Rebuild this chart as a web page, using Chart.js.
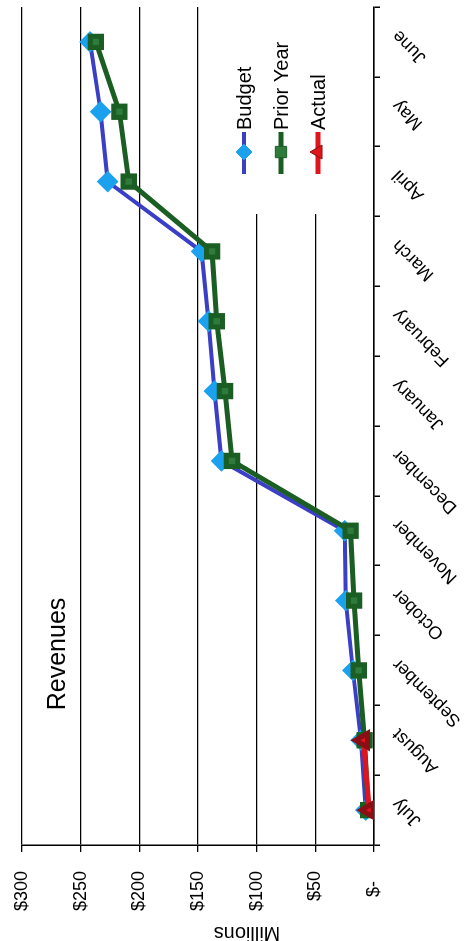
<!DOCTYPE html>
<html>
<head>
<meta charset="utf-8">
<script src="https://cdn.jsdelivr.net/npm/chart.js@4.4.1/dist/chart.umd.min.js"></script>
<style>
  html, body { margin: 0; padding: 0; background: #fff; overflow: hidden; }
  /* the chart is laid out landscape and turned a quarter turn counter-clockwise */
  #wrap {
    position: absolute; left: 0; top: 0;
    width: 941px; height: 472px;
    transform-origin: 0 0;
    transform: translateY(941px) rotate(-90deg);
    background: #fff;
  }
</style>
</head>
<body>
<div id="wrap"><canvas id="c" width="941" height="472"></canvas></div>
<script>
// Fiscal-year months
const months = ['July', 'August', 'September', 'October', 'November', 'December',
                'January', 'February', 'March', 'April', 'May', 'June'];
// Cumulative revenues, $ millions
const budget    = [7, 11, 18, 24, 25, 130, 136, 141, 147, 227, 233, 242];
const priorYear = [5, 8, 13, 17, 20, 121, 127, 134, 138, 209, 217, 237];
const actual    = [4, 9];
// Value axis ticks
const valueTicks = [0, 50, 100, 150, 200, 250, 300];

const FONT = "'Liberation Sans', Arial, sans-serif";
Chart.defaults.font.family = FONT;
Chart.defaults.color = '#000';

function drawMarker(ctx, style, x, y, r, fill, stroke) {
  ctx.save();
  ctx.fillStyle = fill;
  ctx.strokeStyle = stroke;
  ctx.lineWidth = 1;
  ctx.beginPath();
  if (style === 'rectRot') {
    ctx.moveTo(x - r, y); ctx.lineTo(x, y - r); ctx.lineTo(x + r, y); ctx.lineTo(x, y + r);
  } else if (style === 'rect') {
    const s = r * Math.SQRT1_2;
    ctx.rect(x - s, y - s, 2 * s, 2 * s);
  } else {
    ctx.moveTo(x, y - r); ctx.lineTo(x + r * 0.87, y + r * 0.5); ctx.lineTo(x - r * 0.87, y + r * 0.5);
  }
  ctx.closePath();
  ctx.fill();
  ctx.stroke();
  ctx.restore();
}

// Legend panel, chart title and axis title drawn over the plot
const overlay = {
  id: 'overlay',
  beforeDatasetsDraw(chart) {
    const { ctx, chartArea: a } = chart;
    ctx.save();
    ctx.fillStyle = '#fff';
    ctx.fillRect(a.right - 207, a.bottom - 160, 210, 159);
    ctx.restore();
  },
  afterDraw(chart) {
    const { ctx, chartArea: a } = chart;
    ctx.save();
    // legend
    const lx0 = a.right - 167, lx1 = a.right - 125, mx = a.right - 145;
    const rows = [a.bottom - 130, a.bottom - 93, a.bottom - 56];
    chart.data.datasets.forEach((ds, i) => {
      const y = rows[i];
      ctx.strokeStyle = ds.borderColor;
      ctx.lineWidth = ds.borderWidth;
      ctx.beginPath(); ctx.moveTo(lx0, y); ctx.lineTo(lx1, y); ctx.stroke();
      drawMarker(ctx, ds.pointStyle, mx, y, ds.pointRadius, ds.pointBackgroundColor, ds.pointBorderColor);
      ctx.fillStyle = '#000';
      ctx.font = '20px ' + FONT;
      ctx.textAlign = 'left';
      ctx.textBaseline = 'alphabetic';
      ctx.fillText(ds.label, lx1 + 2, y + 7);
    });
    // chart title inside the plot
    ctx.font = '25px ' + FONT;
    ctx.textAlign = 'center';
    ctx.fillStyle = '#000';
    ctx.fillText('Revenues', a.left + 191, a.top + 43);
    // value axis title
    ctx.translate(14, 247);
    ctx.rotate(-Math.PI / 2);
    ctx.font = '20px ' + FONT;
    ctx.fillText('Millions', 0, 0);
    ctx.restore();
  }
};

new Chart(document.getElementById('c'), {
  type: 'line',
  data: {
    labels: months,
    datasets: [
      { label: 'Budget', data: budget, borderColor: '#3a3fc6', borderWidth: 4,
        pointStyle: 'rectRot', pointRadius: 8, pointBackgroundColor: '#1ba1ee', pointBorderColor: '#1ba1ee',
        tension: 0, order: 3 },
      { label: 'Prior Year', data: priorYear, borderColor: '#1b5e24', borderWidth: 5,
        pointStyle: 'rect', pointRadius: 8, pointBackgroundColor: '#2e7b3c', pointBorderColor: '#1b5e24',
        tension: 0, order: 2 },
      { label: 'Actual', data: actual, borderColor: '#e0141c', borderWidth: 5,
        pointStyle: 'triangle', pointRadius: 8, pointBackgroundColor: '#e0141c', pointBorderColor: '#8a0f14',
        tension: 0, order: 1 }
    ]
  },
  options: {
    responsive: false,
    animation: false,
    devicePixelRatio: 1,
    layout: { autoPadding: false, padding: { left: 0, right: 7, top: 22, bottom: 0 } },
    plugins: { legend: { display: false }, title: { display: false }, tooltip: { enabled: false } },
    scales: {
      x: {
        type: 'category',
        offset: true,
        grid: { offset: true, drawOnChartArea: false, drawTicks: true, tickLength: 6, color: '#000', lineWidth: 1.5 },
        border: { display: true, color: '#000', width: 1.5 },
        ticks: { minRotation: 45, maxRotation: 45, autoSkip: false, color: '#000',
                 font: { family: FONT, size: 18 }, padding: 8, labelOffset: 9 },
        afterFit(s) { s.height = 98; s.paddingLeft = 0; s.paddingRight = 0; }
      },
      y: {
        min: 0, max: 300,
        afterBuildTicks(s) { s.ticks = valueTicks.map(v => ({ value: v })); },
        grid: { color: '#000', lineWidth: 1.3, tickLength: 7, drawTicks: true },
        border: { display: true, color: '#000', width: 1.5 },
        ticks: { color: '#000', font: { family: FONT, size: 18 }, padding: 19,
                 callback: v => (v === 0 ? '$-  ' : '$' + v) },
        afterFit(s) { s.width = 96; s.paddingTop = 0; s.paddingBottom = 0; }
      }
    }
  },
  plugins: [overlay]
});
</script>
</body>
</html>
